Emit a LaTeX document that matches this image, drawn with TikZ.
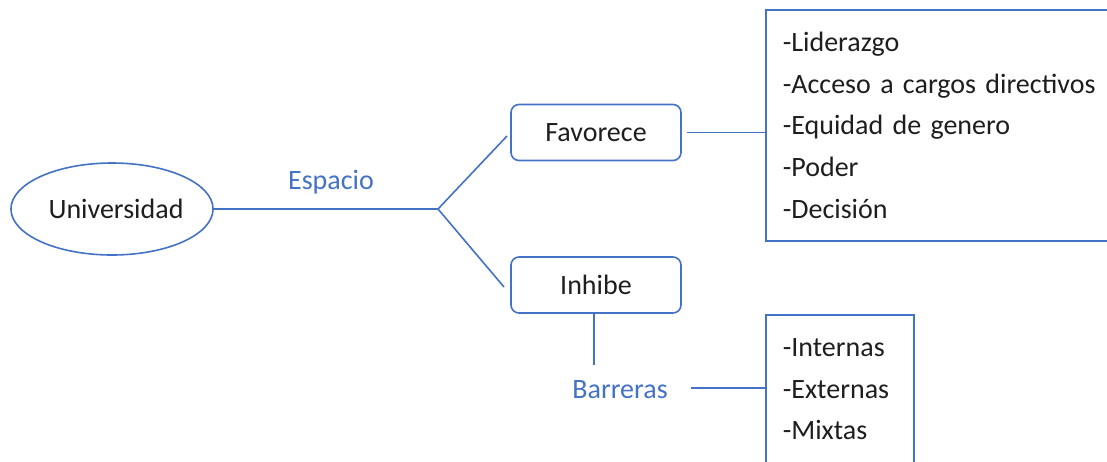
\documentclass[tikz,border=0pt]{standalone}
\usepackage{fontspec}
\setmainfont[WordSpace=0.8]{Carlito}
\usetikzlibrary{shapes.geometric}
\definecolor{lineblue}{HTML}{4472C4}
\definecolor{txt}{HTML}{1E1E1E}
\begin{document}
\begin{tikzpicture}[x=1pt,y=-1pt,
  conn/.style={draw=lineblue, line width=1.6pt},
  lbl/.style={font=\fontsize{28}{34}\selectfont, text=lineblue},
  ovalbox/.style={ellipse, draw=lineblue, line width=1.6pt, inner sep=0pt,
    minimum width=200pt, minimum height=92pt, font=\fontsize{28}{34}\selectfont, text=txt},
  rbox/.style={rectangle, rounded corners=8pt, draw=lineblue, line width=1.6pt,
    minimum width=170pt, minimum height=56pt, inner sep=0pt,
    font=\fontsize{28}{34}\selectfont, text=txt},
  listbox/.style={rectangle, draw=lineblue, line width=1.6pt, align=left,
    inner xsep=17pt, inner ysep=0pt, anchor=north west,
    font=\fontsize{28}{41.75}\selectfont, text=txt}
]
\clip (0,0) rectangle (1107,461);
\fill[white] (0,0) rectangle (1107,461);

\node[ovalbox] (uni) at (112,209) {\hspace*{8pt}Universidad};
\node[lbl] (esp) at (331,182) {Espacio};
\coordinate (junc) at (438,209);
\coordinate (fe) at (507,136);
\coordinate (ie) at (504,287);

\node[rbox] (fav) at (596,132.5) {Favorece};
\node[rbox] (inh) at (596,285) {\raisebox{-3pt}{Inhibe}};

\node[listbox, text width=330pt, minimum height=231pt] (big) at (765,9)
  {-Liderazgo\\-Acceso a cargos directivos\\-Equidad de genero\\-Poder\\-Decisión};

\node[lbl] (barr) at (620,390) {Barreras};
\coordinate (bt) at (594,365);

\node[listbox, text width=114pt, minimum height=149pt] (small) at (765,314)
  {-Internas\\-Externas\\-Mixtas};

\draw[conn] (uni.east) -- (junc);
\draw[conn] (junc) -- (fe);
\draw[conn] (junc) -- (ie);
\draw[conn] ([xshift=5pt]fav.east) -- (fav.east -| big.west);
\draw[conn] (inh.south -| bt) -- (bt);
\draw[conn] ([xshift=20pt,yshift=2pt]barr.east) -- ([yshift=2pt]barr.east -| small.west);
\end{tikzpicture}
\end{document}
